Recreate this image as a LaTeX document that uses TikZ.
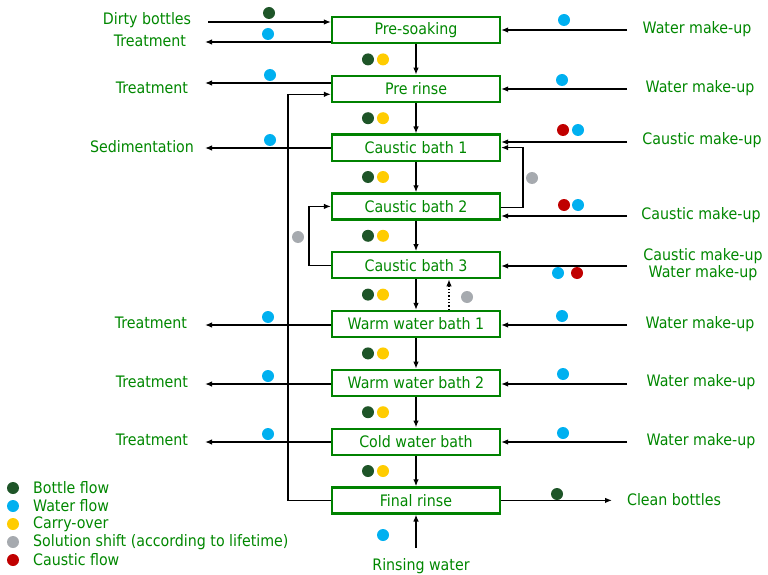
\documentclass[tikz,border=0pt]{standalone}
\usepackage{fontspec}
\setmainfont{DejaVu Sans Condensed}
\usetikzlibrary{arrows.meta,positioning}
\definecolor{txtgreen}{RGB}{0,135,0}
\definecolor{boxgreen}{RGB}{0,130,0}
\definecolor{bottle}{RGB}{30,85,40}
\definecolor{water}{RGB}{0,176,240}
\definecolor{carry}{RGB}{255,204,0}
\definecolor{shift}{RGB}{166,170,175}
\definecolor{caustic}{RGB}{192,0,0}

\begin{document}
\begin{tikzpicture}[x=1pt, y=-1pt, node distance=30.6pt,
    >={Latex[length=7pt,width=5.5pt]},
    every node/.append style={align=center, font=\fontsize{15.8}{17}\selectfont},
    bath/.style={draw=boxgreen, line width=2.2pt, minimum width=168pt,
      minimum height=26pt, inner sep=0, text=txtgreen},
    lbl/.style={inner sep=0, text=txtgreen},
    dot/.style={circle, fill=#1, inner sep=0, minimum size=12pt},
    flow/.style={->, line width=1.3pt}]
   \useasboundingbox (0,0) rectangle (768,575);

   % baths
   \node [bath] (pre) at (416,30) {Pre-soaking};
   \node [bath, below=of pre] (rin) {Pre rinse};
   \node [bath, below=of rin] (cb1) {Caustic bath 1};
   \node [bath, below=of cb1] (cb2) {Caustic bath 2};
   \node [bath, below=of cb2] (cb3) {Caustic bath 3};
   \node [bath, below=of cb3] (ww1) {Warm water bath 1};
   \node [bath, below=of ww1] (ww2) {Warm water bath 2};
   \node [bath, below=of ww2] (cw)  {Cold water bath};
   \node [bath, below=of cw]  (fin) {Final rinse};

   % bottle path
   \foreach \a/\b in {pre/rin, rin/cb1, cb1/cb2, cb2/cb3, cb3/ww1, ww1/ww2, ww2/cw, cw/fin}
     \draw [flow] (\a) -- (\b);
   \foreach \yy in {59.4,118.2,177,235.8,294.6,353.4,412.2,471} {
     \node [dot=bottle] at (368,\yy) {};
     \node [dot=carry]  at (383,\yy) {};
   }

   % left side
   \node [lbl] (dirty) at (147,20) {Dirty bottles};
   \node [lbl] (tr1) at (150,41) {Treatment};
   \node [lbl] (tr2) at (152,88) {Treatment};
   \node [lbl] (sed) at (142,147) {Sedimentation};
   \node [lbl] (tr3) at (151,323) {Treatment};
   \node [lbl] (tr4) at (152,382) {Treatment};
   \node [lbl] (tr5) at (152,440) {Treatment};
   \coordinate (din) at (208,22);
   \coordinate (o1) at (205,42);
   \coordinate (o2) at (205,83);
   \coordinate (o3) at (205,148);
   \coordinate (o4) at (205,325);
   \coordinate (o5) at (205,384);
   \coordinate (o6) at (205,442);
   \draw [flow] (din) -- (pre.west |- din);
   \draw [flow] (pre.west |- o1) -- (o1);
   \draw [flow] (rin.west |- o2) -- (o2);
   \draw [flow] (cb1.west |- o3) -- (o3);
   \draw [flow] (ww1.west |- o4) -- (o4);
   \draw [flow] (ww2.west |- o5) -- (o5);
   \draw [flow] (cw.west |- o6) -- (o6);
   \node [dot=bottle] at (269,13) {};
   \foreach \xx/\yy in {268/34, 270/75, 270/140, 268/317, 268/376, 268/434}
     \node [dot=water] at (\xx,\yy) {};

   % right side
   \node [lbl] (wm1) at (697,29) {Water make-up};
   \node [lbl] (wm2) at (700,88) {Water make-up};
   \node [lbl] (cm1) at (702,140) {Caustic make-up};
   \node [lbl] (cm2) at (701,215) {Caustic make-up};
   \node [lbl] (cm3) at (703,265) {Caustic make-up\\Water make-up};
   \node [lbl] (wm3) at (700,324) {Water make-up};
   \node [lbl] (wm4) at (701,382) {Water make-up};
   \node [lbl] (wm5) at (701,441) {Water make-up};
   \coordinate (i1) at (627,30);
   \coordinate (i2) at (627,89);
   \coordinate (i3) at (627,142);
   \coordinate (i4) at (627,216);
   \coordinate (i5) at (627,266);
   \coordinate (i6) at (627,325);
   \coordinate (i7) at (627,384);
   \coordinate (i8) at (627,442);
   \draw [flow] (i1) -- (pre.east |- i1);
   \draw [flow] (i2) -- (rin.east |- i2);
   \draw [flow] (i3) -- (cb1.east |- i3);
   \draw [flow] (i4) -- (cb2.east |- i4);
   \draw [flow] (i5) -- (cb3.east |- i5);
   \draw [flow] (i6) -- (ww1.east |- i6);
   \draw [flow] (i7) -- (ww2.east |- i7);
   \draw [flow] (i8) -- (cw.east |- i8);
   \foreach \xx/\yy in {564/20, 562/80, 578/130, 578/205, 558/273, 562/316, 563/374, 563/433}
     \node [dot=water] at (\xx,\yy) {};
   \foreach \xx/\yy in {563/130, 564/205, 577/273}
     \node [dot=caustic] at (\xx,\yy) {};

   % solution shift
   \draw [flow] ([yshift=-1pt]cb2.east) -- ++(22,0) |- (cb1.east);
   \draw [flow] (cb3.west) -- ++(-22,0) |- (cb2.west);
   \draw [flow, dotted] ([xshift=33pt]ww1.north) -- ([xshift=33pt]cb3.south);
   \foreach \xx/\yy in {532/178, 298/237, 467/297}
     \node [dot=shift] at (\xx,\yy) {};

   % final rinse
   \draw [flow] (fin.west) -- ++(-43,0) |- ([yshift=-5.5pt]rin.west);
   \node [lbl] (clean) at (674,500) {Clean bottles};
   \coordinate (cout) at (612,500);
   \draw [flow] (fin.east) -- (fin.east -| cout);
   \node [dot=bottle] at (557,494) {};
   \node [lbl] (rinse) at (421,566) {Rinsing water};
   \coordinate (rw) at (416,548);
   \draw [flow] (rw) -- (fin.south);
   \node [dot=water] at (383,535) {};

   % legend
   \foreach \c/\t [count=\i from 0] in {bottle/Bottle flow, water/Water flow, carry/Carry-over,
       shift/Solution shift (according to lifetime), caustic/Caustic flow} {
     \node [dot=\c] (key\i) at (13,488+18*\i) {};
     \node [lbl, anchor=west] at (33,488+18*\i) {\t};
   }
\end{tikzpicture}
\end{document}
